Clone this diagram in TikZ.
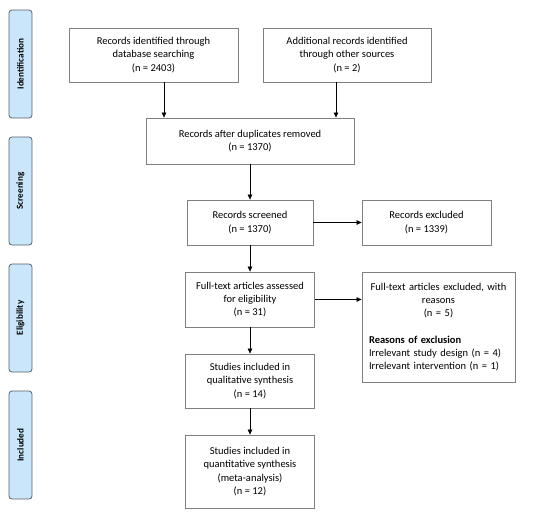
\documentclass[tikz,border=0pt]{standalone}
\usepackage{fontspec}
\setmainfont{Carlito}
\usepackage{xcolor}
\usepackage{tikz}
\usetikzlibrary{positioning, arrows.meta, calc}
\definecolor{phasefill}{HTML}{C9E6FA}
\definecolor{phaseborder}{HTML}{56616B}
\definecolor{boxborder}{HTML}{808080}

\begin{document}
\begin{tikzpicture}[x=1pt, y=-1pt,
    font=\fontsize{10.5}{13.3}\selectfont,
    flowbox/.style={draw=boxborder, line width=0.8pt, fill=white, align=center, inner sep=0pt},
    phase/.style={draw=phaseborder, fill=phasefill, rounded corners=3pt, line width=0.8pt,
          rotate=90, minimum width=108pt, minimum height=23pt, inner sep=0pt,
          font=\fontsize{9.2}{11}\selectfont\bfseries},
    arr/.style={-{Triangle[length=5pt, width=4.5pt]}, line width=0.7pt}]
    \useasboundingbox (0,0) rectangle (550,517);

    % phases on the left
    \node[phase] (ident) at (20.5,64) {Identification};
    \node[phase] (screen) at (20.5,191) {Screening};
    \node[phase] (elig) at (20.5,318) {Eligibility};
    \node[phase] (incl) at (20.5,445) {Included};

    % flow boxes
    \node[flowbox, minimum width=169pt, minimum height=54pt] (dbrec) at (153.5,55)
      {Records identified through\\database searching\\(n = 2403)};
    \node[flowbox, minimum width=168pt, minimum height=54pt] (otherrec) at (347,55)
      {Additional records identified\\through other sources\\(n = 2)};
    \node[flowbox, minimum width=208pt, minimum height=46pt] (dedup) at (250,141)
      {Records after duplicates removed\\(n = 1370)};
    \node[flowbox, minimum width=126pt, minimum height=45pt] (screened) at (250,222.5)
      {Records screened\\(n = 1370)};
    \node[flowbox, minimum width=129pt, minimum height=45pt] (excluded) at (426.5,222.5)
      {Records excluded\\(n = 1339)};
    \node[flowbox, minimum width=129pt, minimum height=55pt] (fulltext) at (250,299.5)
      {Full-text articles assessed\\for eligibility\\(n = 31)};
    \node[flowbox, align=left, text width=139pt, minimum width=153pt, minimum height=110pt] (ftexcl) at (438.5,327){%
      {\centering Full-text articles excluded, with\\reasons\\(n = 5)\par}
      \vspace{13.3pt}
      \textbf{Reasons of exclusion}\\
      Irrelevant study design (n = 4)\\
      Irrelevant intervention (n = 1)};
    \node[flowbox, minimum width=129pt, minimum height=54pt] (qual) at (250,381)
      {Studies included in\\qualitative synthesis\\(n = 14)};
    \node[flowbox, minimum width=129pt, minimum height=73pt] (quant) at (250,471.5)
      {Studies included in\\quantitative synthesis\\(meta-analysis)\\(n = 12)};

    % connectors
    \draw[arr] ([xshift=10.5pt]dbrec.south) -- ([xshift=10.5pt]dbrec.south |- dedup.north);
    \draw[arr] ([xshift=-11pt]otherrec.south) -- ([xshift=-11pt]otherrec.south |- dedup.north);
    \draw[arr] (dedup.south) -- (screened.north);
    \draw[arr] (screened.east) -- (excluded.west);
    \draw[arr] (screened.south) -- (fulltext.north);
    \draw[arr] (fulltext.east) -- (fulltext.east -| ftexcl.west);
    \draw[arr] (fulltext.south) -- (qual.north);
    \draw[arr] (qual.south) -- (quant.north);
  \end{tikzpicture}
\end{document}
